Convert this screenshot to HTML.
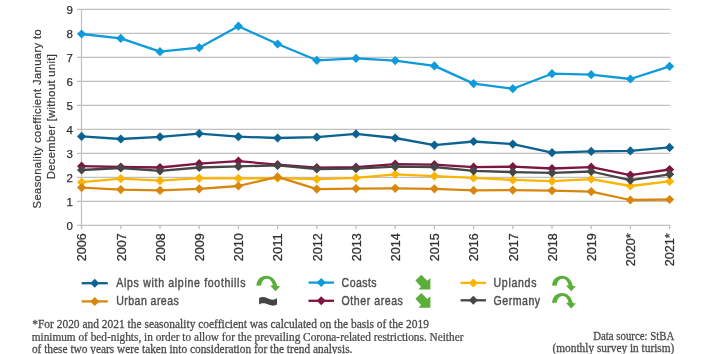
<!DOCTYPE html>
<html><head><meta charset="utf-8"><style>
html,body{margin:0;padding:0;background:#fff;}
body{width:707px;height:354px;overflow:hidden;position:relative;}
svg{position:absolute;left:0;top:0;will-change:transform;}
.ax{font-family:"Liberation Sans",sans-serif;font-size:12.2px;fill:#303030;stroke:#303030;stroke-width:0.25px;}
.ay{font-family:"Liberation Sans",sans-serif;font-size:11.5px;fill:#303030;stroke:#303030;stroke-width:0.25px;}
.yt{font-family:"Liberation Sans",sans-serif;font-size:11.2px;fill:#383838;stroke:#383838;stroke-width:0.2px;}
.lg{font-family:"Liberation Sans",sans-serif;font-size:12px;fill:#4d4d4d;stroke:#4d4d4d;stroke-width:0.4px;}
.ft{font-family:"Liberation Serif",serif;font-size:11.5px;fill:#474747;stroke:#474747;stroke-width:0.25px;}
</style></head><body>
<svg width="707" height="354" viewBox="0 0 707 354">
<line x1="77" y1="9.35" x2="670.3" y2="9.35" stroke="#c0c0c0" stroke-width="1.25"/>
<line x1="77" y1="33.35" x2="670.3" y2="33.35" stroke="#c0c0c0" stroke-width="1.25"/>
<line x1="77" y1="57.35" x2="670.3" y2="57.35" stroke="#c0c0c0" stroke-width="1.25"/>
<line x1="77" y1="81.35" x2="670.3" y2="81.35" stroke="#c0c0c0" stroke-width="1.25"/>
<line x1="77" y1="105.35" x2="670.3" y2="105.35" stroke="#c0c0c0" stroke-width="1.25"/>
<line x1="77" y1="129.35" x2="670.3" y2="129.35" stroke="#c0c0c0" stroke-width="1.25"/>
<line x1="77" y1="153.35" x2="670.3" y2="153.35" stroke="#c0c0c0" stroke-width="1.25"/>
<line x1="77" y1="177.35" x2="670.3" y2="177.35" stroke="#c0c0c0" stroke-width="1.25"/>
<line x1="77" y1="201.35" x2="670.3" y2="201.35" stroke="#c0c0c0" stroke-width="1.25"/>
<line x1="77" y1="225.35" x2="670.3" y2="225.35" stroke="#c0c0c0" stroke-width="1.25"/>
<line x1="81.5" y1="9" x2="81.5" y2="229" stroke="#c0c0c0" stroke-width="1.25"/>
<line x1="81.6" y1="225" x2="81.6" y2="229" stroke="#c0c0c0" stroke-width="1.25"/>
<line x1="120.8" y1="225" x2="120.8" y2="229" stroke="#c0c0c0" stroke-width="1.25"/>
<line x1="160.0" y1="225" x2="160.0" y2="229" stroke="#c0c0c0" stroke-width="1.25"/>
<line x1="199.2" y1="225" x2="199.2" y2="229" stroke="#c0c0c0" stroke-width="1.25"/>
<line x1="238.4" y1="225" x2="238.4" y2="229" stroke="#c0c0c0" stroke-width="1.25"/>
<line x1="277.6" y1="225" x2="277.6" y2="229" stroke="#c0c0c0" stroke-width="1.25"/>
<line x1="316.8" y1="225" x2="316.8" y2="229" stroke="#c0c0c0" stroke-width="1.25"/>
<line x1="356.0" y1="225" x2="356.0" y2="229" stroke="#c0c0c0" stroke-width="1.25"/>
<line x1="395.2" y1="225" x2="395.2" y2="229" stroke="#c0c0c0" stroke-width="1.25"/>
<line x1="434.4" y1="225" x2="434.4" y2="229" stroke="#c0c0c0" stroke-width="1.25"/>
<line x1="473.6" y1="225" x2="473.6" y2="229" stroke="#c0c0c0" stroke-width="1.25"/>
<line x1="512.8" y1="225" x2="512.8" y2="229" stroke="#c0c0c0" stroke-width="1.25"/>
<line x1="552.0" y1="225" x2="552.0" y2="229" stroke="#c0c0c0" stroke-width="1.25"/>
<line x1="591.2" y1="225" x2="591.2" y2="229" stroke="#c0c0c0" stroke-width="1.25"/>
<line x1="630.4" y1="225" x2="630.4" y2="229" stroke="#c0c0c0" stroke-width="1.25"/>
<line x1="669.6" y1="225" x2="669.6" y2="229" stroke="#c0c0c0" stroke-width="1.25"/>
<polyline points="81.6,136.4 120.8,139.0 160.0,136.9 199.2,133.6 238.4,136.7 277.6,138.0 316.8,137.2 356.0,133.9 395.2,138.0 434.4,145.1 473.6,141.5 512.8,144.1 552.0,152.7 591.2,151.4 630.4,150.9 669.6,147.4" fill="none" stroke="#0c6390" stroke-width="2.3" stroke-linejoin="round"/>
<path d="M81.6 131.8L86.2 136.4L81.6 141.0L77.0 136.4Z" fill="#0c6390"/>
<path d="M120.8 134.4L125.4 139.0L120.8 143.6L116.2 139.0Z" fill="#0c6390"/>
<path d="M160.0 132.3L164.6 136.9L160.0 141.5L155.4 136.9Z" fill="#0c6390"/>
<path d="M199.2 129.0L203.8 133.6L199.2 138.2L194.6 133.6Z" fill="#0c6390"/>
<path d="M238.4 132.1L243.0 136.7L238.4 141.3L233.8 136.7Z" fill="#0c6390"/>
<path d="M277.6 133.4L282.2 138.0L277.6 142.6L273.0 138.0Z" fill="#0c6390"/>
<path d="M316.8 132.6L321.4 137.2L316.8 141.8L312.2 137.2Z" fill="#0c6390"/>
<path d="M356.0 129.3L360.6 133.9L356.0 138.5L351.4 133.9Z" fill="#0c6390"/>
<path d="M395.2 133.4L399.8 138.0L395.2 142.6L390.6 138.0Z" fill="#0c6390"/>
<path d="M434.4 140.5L439.0 145.1L434.4 149.7L429.8 145.1Z" fill="#0c6390"/>
<path d="M473.6 136.9L478.2 141.5L473.6 146.1L469.0 141.5Z" fill="#0c6390"/>
<path d="M512.8 139.5L517.4 144.1L512.8 148.7L508.2 144.1Z" fill="#0c6390"/>
<path d="M552.0 148.1L556.6 152.7L552.0 157.3L547.4 152.7Z" fill="#0c6390"/>
<path d="M591.2 146.8L595.8 151.4L591.2 156.0L586.6 151.4Z" fill="#0c6390"/>
<path d="M630.4 146.3L635.0 150.9L630.4 155.5L625.8 150.9Z" fill="#0c6390"/>
<path d="M669.6 142.8L674.2 147.4L669.6 152.0L665.0 147.4Z" fill="#0c6390"/>
<polyline points="81.6,34.0 120.8,38.4 160.0,51.7 199.2,47.7 238.4,26.2 277.6,44.0 316.8,60.3 356.0,58.4 395.2,60.6 434.4,65.9 473.6,83.6 512.8,88.7 552.0,73.7 591.2,74.7 630.4,79.0 669.6,66.3" fill="none" stroke="#0e9bdc" stroke-width="2.3" stroke-linejoin="round"/>
<path d="M81.6 29.4L86.2 34.0L81.6 38.6L77.0 34.0Z" fill="#0e9bdc"/>
<path d="M120.8 33.8L125.4 38.4L120.8 43.0L116.2 38.4Z" fill="#0e9bdc"/>
<path d="M160.0 47.1L164.6 51.7L160.0 56.3L155.4 51.7Z" fill="#0e9bdc"/>
<path d="M199.2 43.1L203.8 47.7L199.2 52.3L194.6 47.7Z" fill="#0e9bdc"/>
<path d="M238.4 21.6L243.0 26.2L238.4 30.8L233.8 26.2Z" fill="#0e9bdc"/>
<path d="M277.6 39.4L282.2 44.0L277.6 48.6L273.0 44.0Z" fill="#0e9bdc"/>
<path d="M316.8 55.7L321.4 60.3L316.8 64.9L312.2 60.3Z" fill="#0e9bdc"/>
<path d="M356.0 53.8L360.6 58.4L356.0 63.0L351.4 58.4Z" fill="#0e9bdc"/>
<path d="M395.2 56.0L399.8 60.6L395.2 65.2L390.6 60.6Z" fill="#0e9bdc"/>
<path d="M434.4 61.3L439.0 65.9L434.4 70.5L429.8 65.9Z" fill="#0e9bdc"/>
<path d="M473.6 79.0L478.2 83.6L473.6 88.2L469.0 83.6Z" fill="#0e9bdc"/>
<path d="M512.8 84.1L517.4 88.7L512.8 93.3L508.2 88.7Z" fill="#0e9bdc"/>
<path d="M552.0 69.1L556.6 73.7L552.0 78.3L547.4 73.7Z" fill="#0e9bdc"/>
<path d="M591.2 70.1L595.8 74.7L591.2 79.3L586.6 74.7Z" fill="#0e9bdc"/>
<path d="M630.4 74.4L635.0 79.0L630.4 83.6L625.8 79.0Z" fill="#0e9bdc"/>
<path d="M669.6 61.7L674.2 66.3L669.6 70.9L665.0 66.3Z" fill="#0e9bdc"/>
<polyline points="81.6,182.2 120.8,178.7 160.0,180.7 199.2,178.2 238.4,178.4 277.6,178.2 316.8,179.2 356.0,177.9 395.2,174.3 434.4,176.1 473.6,177.9 512.8,179.9 552.0,181.2 591.2,179.2 630.4,186.0 669.6,181.4" fill="none" stroke="#fbb400" stroke-width="2.3" stroke-linejoin="round"/>
<path d="M81.6 177.6L86.2 182.2L81.6 186.8L77.0 182.2Z" fill="#fbb400"/>
<path d="M120.8 174.1L125.4 178.7L120.8 183.3L116.2 178.7Z" fill="#fbb400"/>
<path d="M160.0 176.1L164.6 180.7L160.0 185.3L155.4 180.7Z" fill="#fbb400"/>
<path d="M199.2 173.6L203.8 178.2L199.2 182.8L194.6 178.2Z" fill="#fbb400"/>
<path d="M238.4 173.8L243.0 178.4L238.4 183.0L233.8 178.4Z" fill="#fbb400"/>
<path d="M277.6 173.6L282.2 178.2L277.6 182.8L273.0 178.2Z" fill="#fbb400"/>
<path d="M316.8 174.6L321.4 179.2L316.8 183.8L312.2 179.2Z" fill="#fbb400"/>
<path d="M356.0 173.3L360.6 177.9L356.0 182.5L351.4 177.9Z" fill="#fbb400"/>
<path d="M395.2 169.7L399.8 174.3L395.2 178.9L390.6 174.3Z" fill="#fbb400"/>
<path d="M434.4 171.5L439.0 176.1L434.4 180.7L429.8 176.1Z" fill="#fbb400"/>
<path d="M473.6 173.3L478.2 177.9L473.6 182.5L469.0 177.9Z" fill="#fbb400"/>
<path d="M512.8 175.3L517.4 179.9L512.8 184.5L508.2 179.9Z" fill="#fbb400"/>
<path d="M552.0 176.6L556.6 181.2L552.0 185.8L547.4 181.2Z" fill="#fbb400"/>
<path d="M591.2 174.6L595.8 179.2L591.2 183.8L586.6 179.2Z" fill="#fbb400"/>
<path d="M630.4 181.4L635.0 186.0L630.4 190.6L625.8 186.0Z" fill="#fbb400"/>
<path d="M669.6 176.8L674.2 181.4L669.6 186.0L665.0 181.4Z" fill="#fbb400"/>
<polyline points="81.6,187.6 120.8,189.6 160.0,190.4 199.2,188.8 238.4,186.0 277.6,176.9 316.8,189.1 356.0,188.6 395.2,188.3 434.4,188.8 473.6,190.4 512.8,190.1 552.0,190.6 591.2,191.6 630.4,200.0 669.6,199.5" fill="none" stroke="#d9870c" stroke-width="2.3" stroke-linejoin="round"/>
<path d="M81.6 183.0L86.2 187.6L81.6 192.2L77.0 187.6Z" fill="#d9870c"/>
<path d="M120.8 185.0L125.4 189.6L120.8 194.2L116.2 189.6Z" fill="#d9870c"/>
<path d="M160.0 185.8L164.6 190.4L160.0 195.0L155.4 190.4Z" fill="#d9870c"/>
<path d="M199.2 184.2L203.8 188.8L199.2 193.4L194.6 188.8Z" fill="#d9870c"/>
<path d="M238.4 181.4L243.0 186.0L238.4 190.6L233.8 186.0Z" fill="#d9870c"/>
<path d="M277.6 172.3L282.2 176.9L277.6 181.5L273.0 176.9Z" fill="#d9870c"/>
<path d="M316.8 184.5L321.4 189.1L316.8 193.7L312.2 189.1Z" fill="#d9870c"/>
<path d="M356.0 184.0L360.6 188.6L356.0 193.2L351.4 188.6Z" fill="#d9870c"/>
<path d="M395.2 183.7L399.8 188.3L395.2 192.9L390.6 188.3Z" fill="#d9870c"/>
<path d="M434.4 184.2L439.0 188.8L434.4 193.4L429.8 188.8Z" fill="#d9870c"/>
<path d="M473.6 185.8L478.2 190.4L473.6 195.0L469.0 190.4Z" fill="#d9870c"/>
<path d="M512.8 185.5L517.4 190.1L512.8 194.7L508.2 190.1Z" fill="#d9870c"/>
<path d="M552.0 186.0L556.6 190.6L552.0 195.2L547.4 190.6Z" fill="#d9870c"/>
<path d="M591.2 187.0L595.8 191.6L591.2 196.2L586.6 191.6Z" fill="#d9870c"/>
<path d="M630.4 195.4L635.0 200.0L630.4 204.6L625.8 200.0Z" fill="#d9870c"/>
<path d="M669.6 194.9L674.2 199.5L669.6 204.1L665.0 199.5Z" fill="#d9870c"/>
<polyline points="81.6,166.2 120.8,167.0 160.0,167.5 199.2,163.7 238.4,161.1 277.6,164.7 316.8,167.7 356.0,167.2 395.2,164.2 434.4,164.7 473.6,167.2 512.8,166.7 552.0,168.5 591.2,167.2 630.4,175.1 669.6,169.5" fill="none" stroke="#7e1642" stroke-width="2.3" stroke-linejoin="round"/>
<path d="M81.6 161.6L86.2 166.2L81.6 170.8L77.0 166.2Z" fill="#7e1642"/>
<path d="M120.8 162.4L125.4 167.0L120.8 171.6L116.2 167.0Z" fill="#7e1642"/>
<path d="M160.0 162.9L164.6 167.5L160.0 172.1L155.4 167.5Z" fill="#7e1642"/>
<path d="M199.2 159.1L203.8 163.7L199.2 168.3L194.6 163.7Z" fill="#7e1642"/>
<path d="M238.4 156.5L243.0 161.1L238.4 165.7L233.8 161.1Z" fill="#7e1642"/>
<path d="M277.6 160.1L282.2 164.7L277.6 169.3L273.0 164.7Z" fill="#7e1642"/>
<path d="M316.8 163.1L321.4 167.7L316.8 172.3L312.2 167.7Z" fill="#7e1642"/>
<path d="M356.0 162.6L360.6 167.2L356.0 171.8L351.4 167.2Z" fill="#7e1642"/>
<path d="M395.2 159.6L399.8 164.2L395.2 168.8L390.6 164.2Z" fill="#7e1642"/>
<path d="M434.4 160.1L439.0 164.7L434.4 169.3L429.8 164.7Z" fill="#7e1642"/>
<path d="M473.6 162.6L478.2 167.2L473.6 171.8L469.0 167.2Z" fill="#7e1642"/>
<path d="M512.8 162.1L517.4 166.7L512.8 171.3L508.2 166.7Z" fill="#7e1642"/>
<path d="M552.0 163.9L556.6 168.5L552.0 173.1L547.4 168.5Z" fill="#7e1642"/>
<path d="M591.2 162.6L595.8 167.2L591.2 171.8L586.6 167.2Z" fill="#7e1642"/>
<path d="M630.4 170.5L635.0 175.1L630.4 179.7L625.8 175.1Z" fill="#7e1642"/>
<path d="M669.6 164.9L674.2 169.5L669.6 174.1L665.0 169.5Z" fill="#7e1642"/>
<polyline points="81.6,170.0 120.8,168.0 160.0,170.8 199.2,167.5 238.4,166.4 277.6,165.4 316.8,169.0 356.0,168.7 395.2,166.7 434.4,167.0 473.6,170.8 512.8,172.1 552.0,172.8 591.2,171.5 630.4,180.2 669.6,174.3" fill="none" stroke="#464646" stroke-width="2.3" stroke-linejoin="round"/>
<path d="M81.6 165.4L86.2 170.0L81.6 174.6L77.0 170.0Z" fill="#464646"/>
<path d="M120.8 163.4L125.4 168.0L120.8 172.6L116.2 168.0Z" fill="#464646"/>
<path d="M160.0 166.2L164.6 170.8L160.0 175.4L155.4 170.8Z" fill="#464646"/>
<path d="M199.2 162.9L203.8 167.5L199.2 172.1L194.6 167.5Z" fill="#464646"/>
<path d="M238.4 161.8L243.0 166.4L238.4 171.0L233.8 166.4Z" fill="#464646"/>
<path d="M277.6 160.8L282.2 165.4L277.6 170.0L273.0 165.4Z" fill="#464646"/>
<path d="M316.8 164.4L321.4 169.0L316.8 173.6L312.2 169.0Z" fill="#464646"/>
<path d="M356.0 164.1L360.6 168.7L356.0 173.3L351.4 168.7Z" fill="#464646"/>
<path d="M395.2 162.1L399.8 166.7L395.2 171.3L390.6 166.7Z" fill="#464646"/>
<path d="M434.4 162.4L439.0 167.0L434.4 171.6L429.8 167.0Z" fill="#464646"/>
<path d="M473.6 166.2L478.2 170.8L473.6 175.4L469.0 170.8Z" fill="#464646"/>
<path d="M512.8 167.5L517.4 172.1L512.8 176.7L508.2 172.1Z" fill="#464646"/>
<path d="M552.0 168.2L556.6 172.8L552.0 177.4L547.4 172.8Z" fill="#464646"/>
<path d="M591.2 166.9L595.8 171.5L591.2 176.1L586.6 171.5Z" fill="#464646"/>
<path d="M630.4 175.6L635.0 180.2L630.4 184.8L625.8 180.2Z" fill="#464646"/>
<path d="M669.6 169.7L674.2 174.3L669.6 178.9L665.0 174.3Z" fill="#464646"/>
<line x1="81.7" y1="283.2" x2="107.8" y2="283.2" stroke="#0c6390" stroke-width="2.3"/>
<path d="M94.8 278.7L99.2 283.2L94.8 287.7L90.2 283.2Z" fill="#0c6390"/>
<line x1="81.7" y1="301.4" x2="107.8" y2="301.4" stroke="#d9870c" stroke-width="2.3"/>
<path d="M94.8 296.9L99.2 301.4L94.8 305.9L90.2 301.4Z" fill="#d9870c"/>
<line x1="308.5" y1="282.6" x2="334" y2="282.6" stroke="#0e9bdc" stroke-width="2.3"/>
<path d="M321.2 278.1L325.8 282.6L321.2 287.1L316.8 282.6Z" fill="#0e9bdc"/>
<line x1="308.5" y1="300.8" x2="334" y2="300.8" stroke="#7e1642" stroke-width="2.3"/>
<path d="M321.2 296.3L325.8 300.8L321.2 305.3L316.8 300.8Z" fill="#7e1642"/>
<line x1="460.6" y1="282.9" x2="486.0" y2="282.9" stroke="#fbb400" stroke-width="2.3"/>
<path d="M473.3 278.4L477.8 282.9L473.3 287.4L468.8 282.9Z" fill="#fbb400"/>
<line x1="460.6" y1="300.3" x2="486.0" y2="300.3" stroke="#464646" stroke-width="2.3"/>
<path d="M473.3 295.8L477.8 300.3L473.3 304.8L468.8 300.3Z" fill="#464646"/>
<g transform="translate(0.0,0.0)"><path d="M256.5 285.7 C256.5 280 260.5 275.8 266.5 275.8 C271.5 275.8 275.5 279.5 277.2 285.9 L280.2 286.2 L275.5 291.2 L270.3 285.7 L272.9 285.2 C271.8 281.2 270 278.7 267 278.7 C263.6 278.7 261.3 281.7 261.3 285.4 Z" fill="#5aaf3a"/></g>
<g transform="translate(295.70000000000005,0.0)"><path d="M256.5 285.7 C256.5 280 260.5 275.8 266.5 275.8 C271.5 275.8 275.5 279.5 277.2 285.9 L280.2 286.2 L275.5 291.2 L270.3 285.7 L272.9 285.2 C271.8 281.2 270 278.7 267 278.7 C263.6 278.7 261.3 281.7 261.3 285.4 Z" fill="#5aaf3a"/></g>
<g transform="translate(295.70000000000005,17.19999999999999)"><path d="M256.5 285.7 C256.5 280 260.5 275.8 266.5 275.8 C271.5 275.8 275.5 279.5 277.2 285.9 L280.2 286.2 L275.5 291.2 L270.3 285.7 L272.9 285.2 C271.8 281.2 270 278.7 267 278.7 C263.6 278.7 261.3 281.7 261.3 285.4 Z" fill="#5aaf3a"/></g>
<g transform="translate(415.6,274.9)"><path d="M-0.2 5.6 L5.7 -0.1 L11.7 5.9 L14.8 3.0 L14.8 14.6 L2.9 14.6 L5.4 11.9 Z" fill="#5aaf3a"/></g>
<g transform="translate(415.6,293.2)"><path d="M-0.2 5.6 L5.7 -0.1 L11.7 5.9 L14.8 3.0 L14.8 14.6 L2.9 14.6 L5.4 11.9 Z" fill="#5aaf3a"/></g>
<path d="M259.1 297.9 C262 296 266 297 269 298.8 C272 300.3 275 300 277 298.1 L277 304.2 C275 306 272 306 269 304.8 C266 303.3 262 302.5 259.1 304.5 Z" fill="#454545"/>
<text x="72.9" y="229.85" text-anchor="end" class="ay">0</text>
<text x="72.9" y="205.85" text-anchor="end" class="ay">1</text>
<text x="72.9" y="181.85" text-anchor="end" class="ay">2</text>
<text x="72.9" y="157.85" text-anchor="end" class="ay">3</text>
<text x="72.9" y="133.85" text-anchor="end" class="ay">4</text>
<text x="72.9" y="109.85" text-anchor="end" class="ay">5</text>
<text x="72.9" y="85.85" text-anchor="end" class="ay">6</text>
<text x="72.9" y="61.85" text-anchor="end" class="ay">7</text>
<text x="72.9" y="37.85" text-anchor="end" class="ay">8</text>
<text x="72.9" y="13.85" text-anchor="end" class="ay">9</text>
<text transform="translate(86.3,233.3) rotate(-90)" text-anchor="end" class="ax" textLength="28.0" lengthAdjust="spacingAndGlyphs">2006</text>
<text transform="translate(125.5,233.3) rotate(-90)" text-anchor="end" class="ax" textLength="28.0" lengthAdjust="spacingAndGlyphs">2007</text>
<text transform="translate(164.7,233.3) rotate(-90)" text-anchor="end" class="ax" textLength="28.0" lengthAdjust="spacingAndGlyphs">2008</text>
<text transform="translate(203.9,233.3) rotate(-90)" text-anchor="end" class="ax" textLength="28.0" lengthAdjust="spacingAndGlyphs">2009</text>
<text transform="translate(243.1,233.3) rotate(-90)" text-anchor="end" class="ax" textLength="28.0" lengthAdjust="spacingAndGlyphs">2010</text>
<text transform="translate(282.3,233.3) rotate(-90)" text-anchor="end" class="ax" textLength="28.0" lengthAdjust="spacingAndGlyphs">2011</text>
<text transform="translate(321.5,233.3) rotate(-90)" text-anchor="end" class="ax" textLength="28.0" lengthAdjust="spacingAndGlyphs">2012</text>
<text transform="translate(360.7,233.3) rotate(-90)" text-anchor="end" class="ax" textLength="28.0" lengthAdjust="spacingAndGlyphs">2013</text>
<text transform="translate(399.9,233.3) rotate(-90)" text-anchor="end" class="ax" textLength="28.0" lengthAdjust="spacingAndGlyphs">2014</text>
<text transform="translate(439.1,233.3) rotate(-90)" text-anchor="end" class="ax" textLength="28.0" lengthAdjust="spacingAndGlyphs">2015</text>
<text transform="translate(478.3,233.3) rotate(-90)" text-anchor="end" class="ax" textLength="28.0" lengthAdjust="spacingAndGlyphs">2016</text>
<text transform="translate(517.5,233.3) rotate(-90)" text-anchor="end" class="ax" textLength="28.0" lengthAdjust="spacingAndGlyphs">2017</text>
<text transform="translate(556.7,233.3) rotate(-90)" text-anchor="end" class="ax" textLength="28.0" lengthAdjust="spacingAndGlyphs">2018</text>
<text transform="translate(595.9,233.3) rotate(-90)" text-anchor="end" class="ax" textLength="28.0" lengthAdjust="spacingAndGlyphs">2019</text>
<text transform="translate(635.1,233.3) rotate(-90)" text-anchor="end" class="ax" textLength="33.0" lengthAdjust="spacingAndGlyphs">2020*</text>
<text transform="translate(674.3,233.3) rotate(-90)" text-anchor="end" class="ax" textLength="33.0" lengthAdjust="spacingAndGlyphs">2021*</text>
<text transform="translate(40.8,118.85) rotate(-90)" text-anchor="middle" class="yt" textLength="179.2" lengthAdjust="spacing">Seasonality coefficient January to</text>
<text transform="translate(55.3,116.65) rotate(-90)" text-anchor="middle" class="yt" textLength="125" lengthAdjust="spacing">December [without unit]</text>
<text transform="translate(116.3,286.5) scale(0.88,1)" class="lg" style="letter-spacing:0.776px">Alps with alpine foothills</text>
<text transform="translate(116.3,305.2) scale(0.88,1)" class="lg" style="letter-spacing:0.497px">Urban areas</text>
<text transform="translate(341.6,286.5) scale(0.88,1)" class="lg" style="letter-spacing:0.483px">Coasts</text>
<text transform="translate(341.6,305.2) scale(0.88,1)" class="lg" style="letter-spacing:0.628px">Other areas</text>
<text transform="translate(493.5,286.5) scale(0.88,1)" class="lg" style="letter-spacing:0.806px">Uplands</text>
<text transform="translate(493.5,305.0) scale(0.88,1)" class="lg" style="letter-spacing:0.599px">Germany</text>
<text transform="translate(32.2,328) scale(0.9969,1)" class="ft">*For 2020 and 2021 the seasonality coefficient was calculated on the basis of the 2019</text>
<text transform="translate(31.7,340.7) scale(0.9839,1)" class="ft">minimum of bed-nights, in order to allow for the prevailing Corona-related restrictions. Neither</text>
<text transform="translate(31.9,352.8) scale(0.9892,1)" class="ft">of these two years were taken into consideration for the trend analysis.</text>
<text transform="translate(593.2,340) scale(0.9426,1)" class="ft">Data source: StBA</text>
<text transform="translate(552.5,351.8) scale(0.9871,1)" class="ft">(monthly survey in turism)</text>
</svg>
</body></html>
